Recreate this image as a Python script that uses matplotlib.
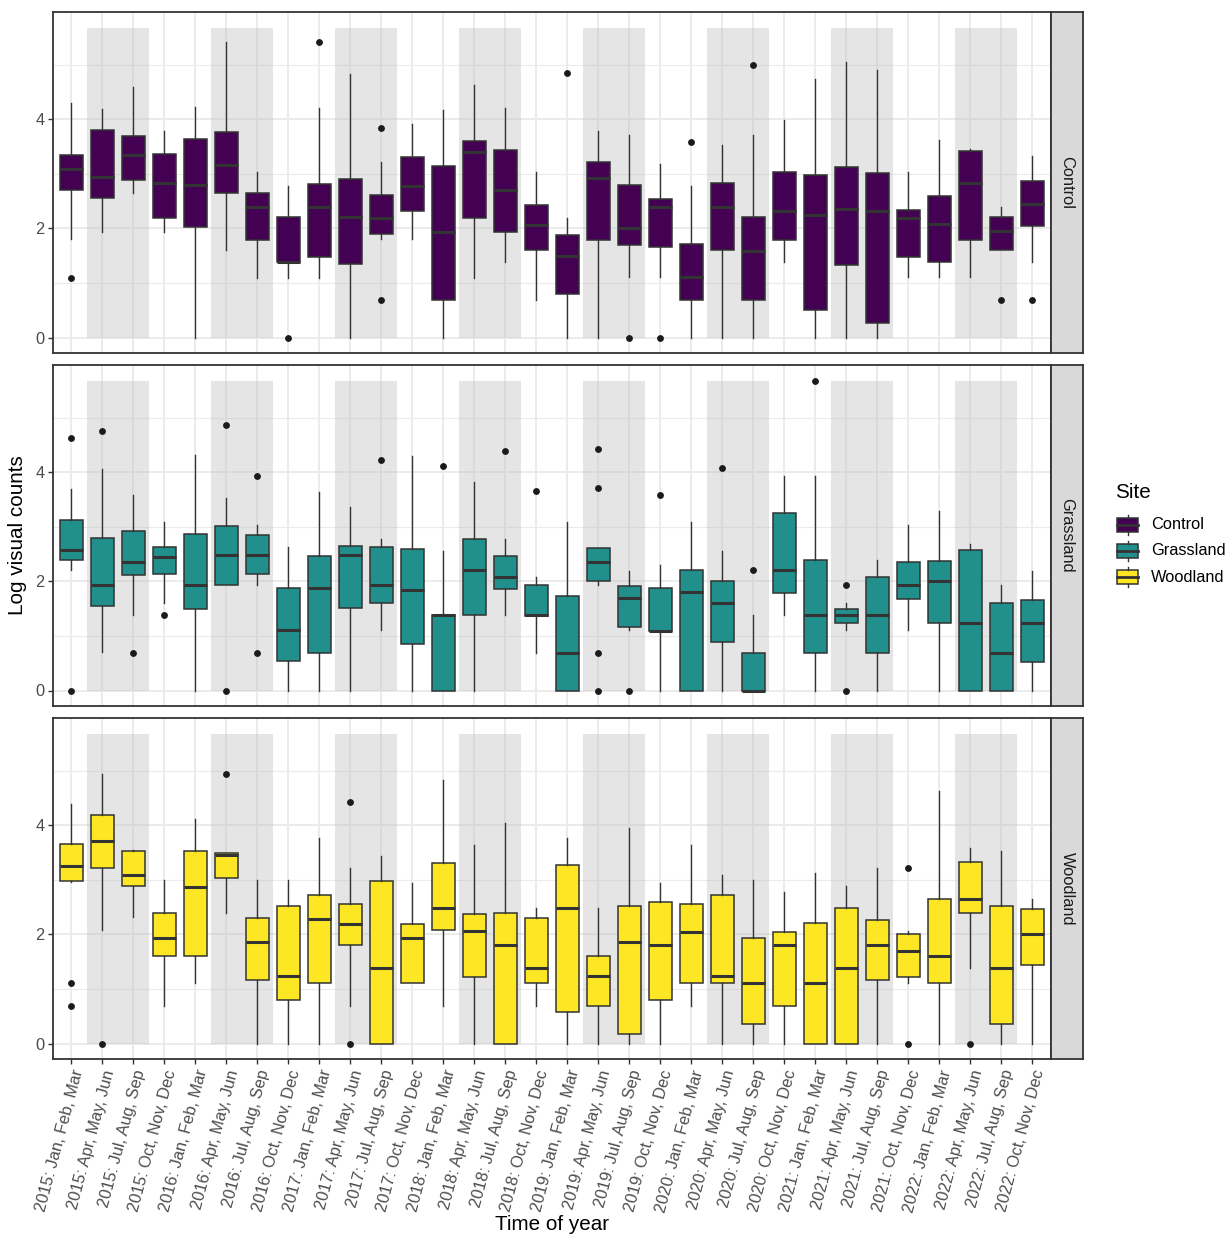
import matplotlib
matplotlib.use("Agg")
import matplotlib.pyplot as plt
from matplotlib.patches import Rectangle
from matplotlib.lines import Line2D

plt.rcParams['font.family'] = ['Liberation Sans', 'DejaVu Sans']

# ---- categories -------------------------------------------------------
years = [2015, 2016, 2017, 2018, 2019, 2020, 2021, 2022]
quarters = ["Jan, Feb, Mar", "Apr, May, Jun", "Jul, Aug, Sep", "Oct, Nov, Dec"]
tick_labels = [f"{y}: {q}" for y in years for q in quarters]
sites = ["Control", "Grassland", "Woodland"]
site_colors = {"Control": "#440154", "Grassland": "#21908C", "Woodland": "#FDE725"}

# ---- box statistics per site (log visual counts) ----------------------
control_lo = [1.80, 1.94, 2.64, 1.94, 0.00, 1.61, 1.09, 1.09, 1.09, 0.00, 1.80, 1.80, 0.00, 1.09, 1.38, 0.69,
              0.00, 0.00, 1.10, 1.10, 0.00, 0.00, 0.00, 1.39, 0.00, 0.00, 0.00, 1.10, 1.10, 1.10, 1.61, 1.39]
control_q1 = [2.70, 2.56, 2.88, 2.19, 2.03, 2.64, 1.79, 1.38, 1.48, 1.35, 1.90, 2.32, 0.69, 2.19, 1.94, 1.61,
              0.79, 1.78, 1.69, 1.66, 0.69, 1.61, 0.69, 1.79, 0.51, 1.33, 0.27, 1.47, 1.38, 1.79, 1.61, 2.04]
control_med = [3.09, 2.94, 3.34, 2.84, 2.79, 3.16, 2.40, 1.39, 2.39, 2.20, 2.19, 2.77, 1.94, 3.40, 2.71, 2.07,
               1.50, 2.92, 2.01, 2.40, 1.10, 2.40, 1.59, 2.31, 2.24, 2.35, 2.31, 2.19, 2.08, 2.84, 1.95, 2.44]
control_q3 = [3.35, 3.81, 3.69, 3.37, 3.64, 3.76, 2.65, 2.20, 2.81, 2.91, 2.61, 3.30, 3.14, 3.60, 3.43, 2.42,
              1.87, 3.21, 2.79, 2.53, 1.71, 2.84, 2.21, 3.04, 2.98, 3.12, 3.02, 2.33, 2.59, 3.41, 2.20, 2.87]
control_hi = [4.30, 4.18, 4.59, 3.79, 4.22, 5.41, 3.04, 2.77, 4.21, 4.83, 3.22, 3.91, 4.16, 4.62, 4.20, 3.04,
              2.19, 3.79, 3.71, 3.18, 2.77, 3.53, 3.71, 3.99, 4.73, 5.05, 4.91, 3.04, 3.61, 3.46, 2.39, 3.33]
control_out = {1: [1.09], 8: [0.0], 9: [5.41], 11: [3.83, 0.69], 17: [4.84], 19: [0.0], 20: [0.0],
               21: [3.58], 23: [5.00], 31: [0.69], 32: [0.69]}

grass_lo = [2.20, 0.70, 1.39, 1.61, 0.00, 1.94, 1.94, 0.00, 0.00, 0.00, 1.10, 0.00, 0.00, 0.00, 1.39, 0.69,
            0.00, 1.94, 1.10, 0.00, 0.00, 0.00, 0.00, 1.39, 0.00, 1.10, 0.00, 1.10, 0.00, 0.00, 0.00, 0.00]
grass_q1 = [2.39, 1.55, 2.11, 2.13, 1.50, 1.94, 2.14, 0.54, 0.69, 1.52, 1.61, 0.86, 0.00, 1.39, 1.86, 1.37,
            0.00, 2.00, 1.17, 1.09, 0.00, 0.89, 0.00, 1.79, 0.69, 1.23, 0.69, 1.67, 1.23, 0.00, 0.00, 0.52]
grass_med = [2.58, 1.94, 2.35, 2.44, 1.94, 2.49, 2.49, 1.10, 1.87, 2.49, 1.94, 1.84, 1.39, 2.20, 2.08, 1.38,
             0.69, 2.35, 1.70, 1.09, 1.80, 1.61, 0.00, 2.20, 1.39, 1.39, 1.39, 1.94, 2.01, 1.24, 0.69, 1.24]
grass_q3 = [3.13, 2.80, 2.93, 2.63, 2.86, 3.01, 2.85, 1.87, 2.46, 2.64, 2.63, 2.60, 1.39, 2.77, 2.47, 1.94,
            1.74, 2.62, 1.91, 1.87, 2.20, 2.00, 0.69, 3.26, 2.39, 1.50, 2.08, 2.35, 2.38, 2.58, 1.61, 1.65]
grass_hi = [3.69, 4.05, 3.58, 3.08, 4.32, 3.52, 3.04, 2.63, 3.63, 3.36, 2.77, 4.30, 2.56, 3.82, 2.77, 2.08,
            3.08, 2.62, 2.19, 2.30, 3.08, 2.56, 1.38, 3.93, 3.93, 1.60, 2.39, 3.04, 3.29, 2.69, 1.94, 2.19]
grass_out = {1: [4.62, 0.0], 2: [4.75], 3: [0.69], 4: [1.39], 6: [4.86, 0.0], 7: [3.93, 0.69], 11: [4.23],
             13: [4.11], 15: [4.38], 16: [3.66], 18: [4.43, 3.71, 0.69, 0.0], 19: [0.0], 20: [3.58],
             22: [4.08], 23: [2.20], 25: [5.68], 26: [1.94, 0.0]}

wood_lo = [2.96, 2.08, 2.31, 0.69, 1.10, 2.40, 0.00, 0.00, 0.00, 0.69, 0.00, 1.10, 0.69, 0.00, 0.00, 0.69,
           0.00, 0.00, 0.00, 0.00, 0.69, 0.00, 0.00, 0.00, 0.00, 0.00, 0.00, 1.10, 0.00, 1.39, 0.00, 0.00]
wood_q1 = [2.97, 3.22, 2.88, 1.61, 1.61, 3.04, 1.17, 0.80, 1.10, 1.80, 0.00, 1.10, 2.08, 1.22, 0.00, 1.10,
           0.57, 0.69, 0.17, 0.80, 1.10, 1.10, 0.35, 0.69, 0.00, 0.00, 1.17, 1.22, 1.10, 2.39, 0.35, 1.44]
wood_med = [3.25, 3.71, 3.09, 1.94, 2.87, 3.46, 1.86, 1.24, 2.29, 2.19, 1.39, 1.94, 2.49, 2.07, 1.80, 1.39,
            2.49, 1.24, 1.86, 1.80, 2.04, 1.24, 1.10, 1.80, 1.10, 1.39, 1.80, 1.70, 1.61, 2.64, 1.39, 2.00]
wood_q3 = [3.65, 4.18, 3.52, 2.40, 3.52, 3.49, 2.30, 2.52, 2.72, 2.56, 2.97, 2.19, 3.30, 2.37, 2.39, 2.30,
           3.27, 1.61, 2.52, 2.60, 2.55, 2.72, 1.94, 2.04, 2.20, 2.49, 2.27, 2.00, 2.64, 3.33, 2.52, 2.46]
wood_hi = [4.38, 4.93, 3.54, 2.99, 4.12, 3.49, 2.99, 2.99, 3.76, 3.21, 3.43, 2.94, 4.82, 3.63, 4.04, 2.48,
           3.76, 2.48, 3.95, 2.94, 3.63, 3.08, 2.99, 2.77, 3.13, 2.88, 3.21, 2.07, 4.62, 3.58, 3.52, 2.64]
wood_out = {1: [1.10, 0.69], 2: [0.0], 6: [4.93], 10: [4.42, 0.0], 28: [3.22, 0.0], 30: [0.0]}

site_data = {
    "Control": (control_lo, control_q1, control_med, control_q3, control_hi, control_out),
    "Grassland": (grass_lo, grass_q1, grass_med, grass_q3, grass_hi, grass_out),
    "Woodland": (wood_lo, wood_q1, wood_med, wood_q3, wood_hi, wood_out),
}

# shared y range across facets
all_vals = []
for lo, q1, med, q3, hi, out in site_data.values():
    all_vals += lo + hi + [v for vs in out.values() for v in vs]
ymin_d, ymax_d = min(all_vals), max(all_vals)
span = ymax_d - ymin_d
ylims = (ymin_d - 0.05 * span, ymax_d + 0.05 * span)

# ---- figure layout (pixel based) --------------------------------------
W, H = 1225, 1236
fig = plt.figure(figsize=(W / 100, H / 100), dpi=100)

def fig_rect(x0, y0, x1, y1):
    return [x0 / W, 1 - y1 / H, (x1 - x0) / W, (y1 - y0) / H]

panel_x0, panel_x1 = 52.7, 1051
panel_rows = [(12, 353), (365, 706), (718, 1059)]
strip_x1 = 1083

dark = "#333333"
grid_c = "#EBEBEB"
n = len(tick_labels)
positions = list(range(1, n + 1))

for i, site in enumerate(sites):
    y0, y1 = panel_rows[i]
    ax = fig.add_axes(fig_rect(panel_x0, y0, panel_x1, y1))
    lo, q1, med, q3, hi, out = site_data[site]

    ax.set_xlim(0.4, n + 0.6)
    ax.set_ylim(*ylims)
    ax.set_xticks(positions)
    ax.set_yticks([0, 2, 4])
    ax.set_yticks([1, 3, 5], minor=True)
    ax.set_axisbelow(True)
    ax.grid(True, which="major", color=grid_c, linewidth=1.4, zorder=0)
    ax.grid(True, which="minor", axis="y", color=grid_c, linewidth=0.8, zorder=0)
    ax.tick_params(axis="x", which="minor", bottom=False)

    # spring / summer quarters shaded for every year
    for k in range(len(years)):
        for q in (2, 3):
            xc = 4 * k + q
            ax.add_patch(Rectangle((xc - 0.5, 0), 1.0, ymax_d, facecolor="#BEBEBE",
                                   alpha=0.4, edgecolor="none", zorder=1))

    stats = []
    for j in range(n):
        stats.append(dict(med=med[j], q1=q1[j], q3=q3[j], whislo=lo[j], whishi=hi[j],
                          fliers=out.get(j + 1, [])))
    ax.bxp(stats, positions=positions, widths=0.75, patch_artist=True, manage_ticks=False,
           showcaps=False, zorder=3,
           boxprops=dict(facecolor=site_colors[site], edgecolor=dark, linewidth=1.1),
           medianprops=dict(color=dark, linewidth=2.2, solid_capstyle="butt"),
           whiskerprops=dict(color=dark, linewidth=1.0),
           flierprops=dict(marker="o", markerfacecolor="#1A1A1A", markeredgecolor="#1A1A1A",
                           markersize=3.9, linestyle="none"))

    for s in ax.spines.values():
        s.set_color(dark)
        s.set_linewidth(1.3)
    ax.tick_params(axis="y", which="major", colors=dark, length=3.5, width=1.0,
                   labelsize=11.8, labelcolor="#4D4D4D", pad=2.5)
    ax.tick_params(axis="y", which="minor", left=False)
    if i < 2:
        ax.tick_params(axis="x", which="major", bottom=False, labelbottom=False)
    else:
        ax.tick_params(axis="x", which="major", colors=dark, length=3.5, width=1.0,
                       labelsize=11.8, labelcolor="#4D4D4D", pad=3)
        ax.set_xticklabels(tick_labels, rotation=75, ha="right", va="top",
                           rotation_mode="anchor")

    # facet strip
    sax = fig.add_axes(fig_rect(panel_x1, y0, strip_x1, y1))
    sax.set_facecolor("#D9D9D9")
    sax.set_xticks([])
    sax.set_yticks([])
    for s in sax.spines.values():
        s.set_color(dark)
        s.set_linewidth(1.3)
    sax.text(0.5, 0.5, site, rotation=-90, ha="center", va="center",
             fontsize=11.8, color="#1A1A1A", transform=sax.transAxes)

# axis titles
fig.text(18 / W, 1 - 535.5 / H, "Log visual counts", rotation=90, ha="center", va="center",
         fontsize=14.9, color="black")
fig.text(552 / W, 1 - 1225 / H, "Time of year", ha="center", va="center",
         fontsize=14.9, color="black")

# legend
lax = fig.add_axes(fig_rect(1095, 470, 1225, 600))
lax.set_xlim(1095, 1225)
lax.set_ylim(600, 470)
lax.axis("off")
lax.text(1115, 492, "Site", ha="left", va="center", fontsize=14.9, color="black")
for k, site in enumerate(sites):
    c = 524.5 + k * 26.3
    bx0, bx1 = 1117, 1138
    xm = (bx0 + bx1) / 2
    lax.add_line(Line2D([xm, xm], [c - 10, c - 7], color=dark, linewidth=1.0))
    lax.add_line(Line2D([xm, xm], [c + 7, c + 10], color=dark, linewidth=1.0))
    lax.add_patch(Rectangle((bx0, c - 7), bx1 - bx0, 14, facecolor=site_colors[site],
                            edgecolor=dark, linewidth=1.1))
    lax.add_line(Line2D([bx0, bx1], [c, c], color=dark, linewidth=2.0))
    lax.text(1151, c, site, ha="left", va="center", fontsize=11.8, color="black")

fig.savefig("out.png", dpi=100)
